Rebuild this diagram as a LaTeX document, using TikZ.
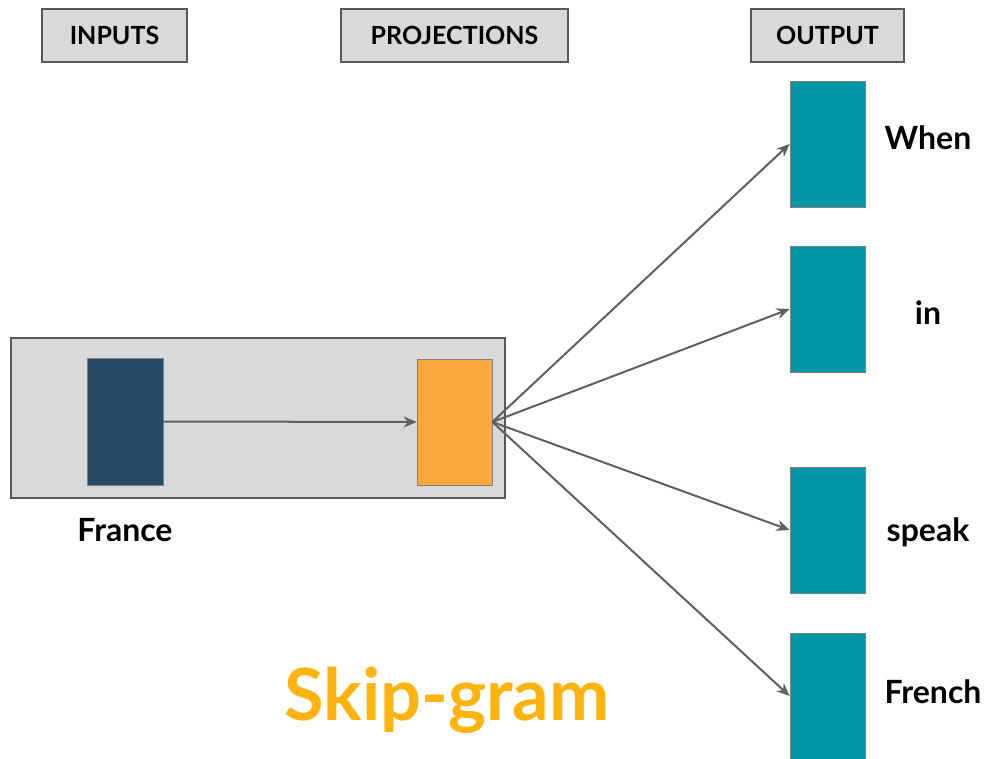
\documentclass[tikz,border=0pt]{standalone}
\usepackage{fontspec}
\setmainfont{Lato}
\usetikzlibrary{arrows.meta}
\definecolor{hdrfill}{HTML}{D9D9D9}
\definecolor{boxedge}{HTML}{595959}
\definecolor{inblue}{HTML}{274B64}
\definecolor{projorange}{HTML}{FBA93D}
\definecolor{outteal}{HTML}{0096A6}
\definecolor{arrowgray}{HTML}{5F5F5F}
\definecolor{skipgold}{HTML}{FFB30F}
\begin{document}
\begin{tikzpicture}[x=1pt,y=-1pt,
  hdr/.style={draw=boxedge, line width=1.2pt, fill=hdrfill, font=\bfseries\fontsize{25}{29}\selectfont, inner sep=0pt, minimum height=53pt},
  vec/.style={draw=gray, line width=0.8pt, minimum width=75pt, minimum height=126pt, inner sep=0pt},
  word/.style={font=\bfseries\fontsize{32}{36}\selectfont, inner sep=0pt},
  conn/.style={draw=arrowgray, line width=2pt, -{Stealth[length=13pt,width=11pt]}}]
\useasboundingbox (0,0) rectangle (993,759);
% headers
\node[hdr, minimum width=145pt] (inputs) at (114.5,35.5) {INPUTS};
\node[hdr, minimum width=227pt] (projections) at (454.5,35.5) {PROJECTIONS};
\node[hdr, minimum width=153pt] (output) at (827.5,35.5) {OUTPUT};
% context box
\node[draw=boxedge, fill=hdrfill, line width=1.2pt, minimum width=494pt, minimum height=160pt, inner sep=0pt] (ctx) at (258,418) {};
\node[vec, fill=inblue, minimum width=76pt, minimum height=127pt] (input) at (125,421.5) {};
\node[vec, fill=projorange] (proj) at (454.5,422) {};
% outputs
\node[vec, fill=outteal] (when) at (827.5,144) {};
\node[vec, fill=outteal] (in) at (827.5,309) {};
\node[vec, fill=outteal] (speak) at (827.5,530) {};
\node[vec, fill=outteal] (french) at (827.5,696) {};
% labels
\node[word] (lwhen) at (928,138) {When};
\node[word] (lin) at (928,313) {in};
\node[word] (lspeak) at (928,532) {speak};
\node[word] (lfrench) at (933,692) {French};
\node[word] (lfrance) at (125,530) {France};
\node[font=\bfseries\fontsize{72}{78}\selectfont, text=skipgold, inner sep=0pt] (title) at (447,700) {Skip-gram};
% connectors
\draw[conn] (input.east) -- (proj.west);
\draw[conn] (proj.east) -- (when.west);
\draw[conn] (proj.east) -- (in.west);
\draw[conn] (proj.east) -- (speak.west);
\draw[conn] (proj.east) -- (french.west);
\end{tikzpicture}
\end{document}
